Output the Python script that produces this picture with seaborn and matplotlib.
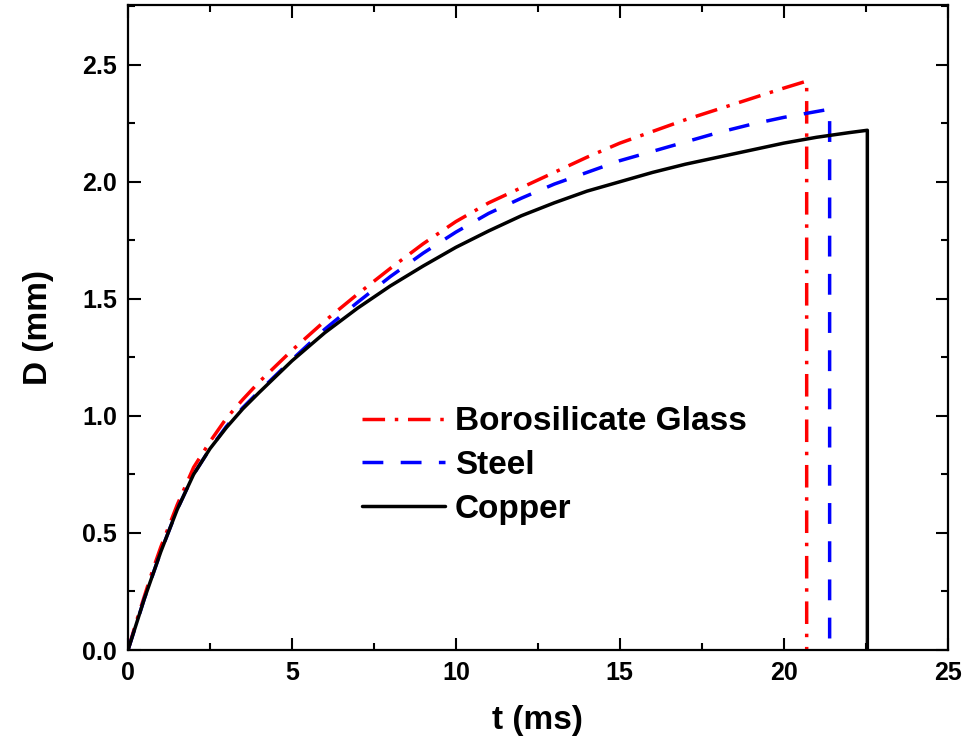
import numpy as np
import pandas as pd
import matplotlib
matplotlib.use("Agg")
import matplotlib.pyplot as plt
import seaborn as sns
from matplotlib.ticker import MultipleLocator

# data (t in ms, D in mm); last point is the drop to zero
t_copper = [0, 0.25, 0.5, 0.75, 1, 1.5, 2, 2.5, 3, 3.5, 4, 5, 6, 7, 8, 9, 10,
            11, 12, 13, 14, 15, 16, 17, 18, 19, 20, 21, 22, 22.55, 22.55]
d_copper = [0, 0.11, 0.22, 0.32, 0.42, 0.60, 0.75, 0.86, 0.95, 1.03, 1.10, 1.235, 1.355, 1.46, 1.555, 1.64, 1.72,
            1.79, 1.855, 1.91, 1.96, 2.00, 2.04, 2.075, 2.105, 2.135, 2.165, 2.19, 2.21, 2.22, 0]

t_steel = [0, 0.25, 0.5, 0.75, 1, 1.5, 2, 2.5, 3, 3.5, 4, 5, 6, 7, 8, 9, 10,
           11, 12, 13, 14, 15, 16, 17, 18, 19, 20, 21, 21.4, 21.4]
d_steel = [0, 0.11, 0.22, 0.32, 0.42, 0.60, 0.75, 0.86, 0.955, 1.035, 1.105, 1.24, 1.37, 1.485, 1.595, 1.695, 1.785,
           1.865, 1.93, 1.99, 2.04, 2.09, 2.13, 2.17, 2.21, 2.245, 2.275, 2.30, 2.31, 0]

t_glass = [0, 0.25, 0.5, 0.75, 1, 1.5, 2, 2.5, 3, 3.5, 4, 5, 6, 7, 8, 9, 10,
           11, 12, 13, 14, 15, 16, 17, 18, 19, 20, 20.7, 20.7]
d_glass = [0, 0.12, 0.23, 0.34, 0.44, 0.62, 0.78, 0.89, 0.99, 1.07, 1.145, 1.28, 1.405, 1.52, 1.63, 1.735, 1.83,
           1.91, 1.975, 2.04, 2.105, 2.165, 2.215, 2.265, 2.31, 2.355, 2.40, 2.43, 0]

sns.set_style("ticks")
plt.rcParams['font.family'] = ['Liberation Sans', 'DejaVu Sans']
plt.rcParams['font.weight'] = 'bold'
for key in ['text.color', 'axes.labelcolor', 'xtick.color', 'ytick.color', 'axes.edgecolor']:
    plt.rcParams[key] = 'black'

fig = plt.figure(figsize=(9.67, 7.48), dpi=100)
ax = fig.add_axes([0.1324, 0.131, 0.8476, 0.8623])

sns.lineplot(x=t_glass, y=d_glass, ax=ax, sort=False, estimator=None, color='#ff0000',
             linewidth=2.5, linestyle=(0, (6.5, 2.8, 1.0, 2.8)), label='Borosilicate Glass')
sns.lineplot(x=t_steel, y=d_steel, ax=ax, sort=False, estimator=None, color='#0000ff',
             linewidth=2.5, linestyle=(0, (6, 5)), label='Steel')
sns.lineplot(x=t_copper, y=d_copper, ax=ax, sort=False, estimator=None, color='black',
             linewidth=2.5, label='Copper')

ax.xaxis.set_major_locator(MultipleLocator(5))
ax.xaxis.set_minor_locator(MultipleLocator(2.5))
ax.yaxis.set_major_locator(MultipleLocator(0.5))
ax.yaxis.set_minor_locator(MultipleLocator(0.25))
ax.tick_params(which='both', direction='in', top=True, right=True, width=1.5)
ax.tick_params(which='major', length=9, labelsize=18, pad=8)
ax.tick_params(which='minor', length=5)
ax.set_xlim(0, 25)
ax.set_ylim(0, 2.755)
ax.set_yticks(ax.get_yticks())
ax.set_yticklabels([f"{v:.1f}" for v in ax.get_yticks()], fontweight='bold')
ax.set_xticks(ax.get_xticks())
ax.set_xticklabels([f"{v:g}" for v in ax.get_xticks()], fontweight='bold')
ax.set_xlim(0, 25)
ax.set_ylim(0, 2.755)
for s in ax.spines.values():
    s.set_linewidth(1.6)

ax.set_xlabel('t (ms)', fontsize=24, fontweight='bold', labelpad=14)
ax.set_ylabel('D (mm)', fontsize=24, fontweight='bold', labelpad=20)

leg = ax.legend(loc='upper left', bbox_to_anchor=(0.285, 0.378), frameon=False,
                prop={'size': 24, 'weight': 'bold'}, handlelength=2.5,
                handletextpad=0.3, labelspacing=0.38, borderpad=0, borderaxespad=0)

fig.savefig('out.png', dpi=100)
